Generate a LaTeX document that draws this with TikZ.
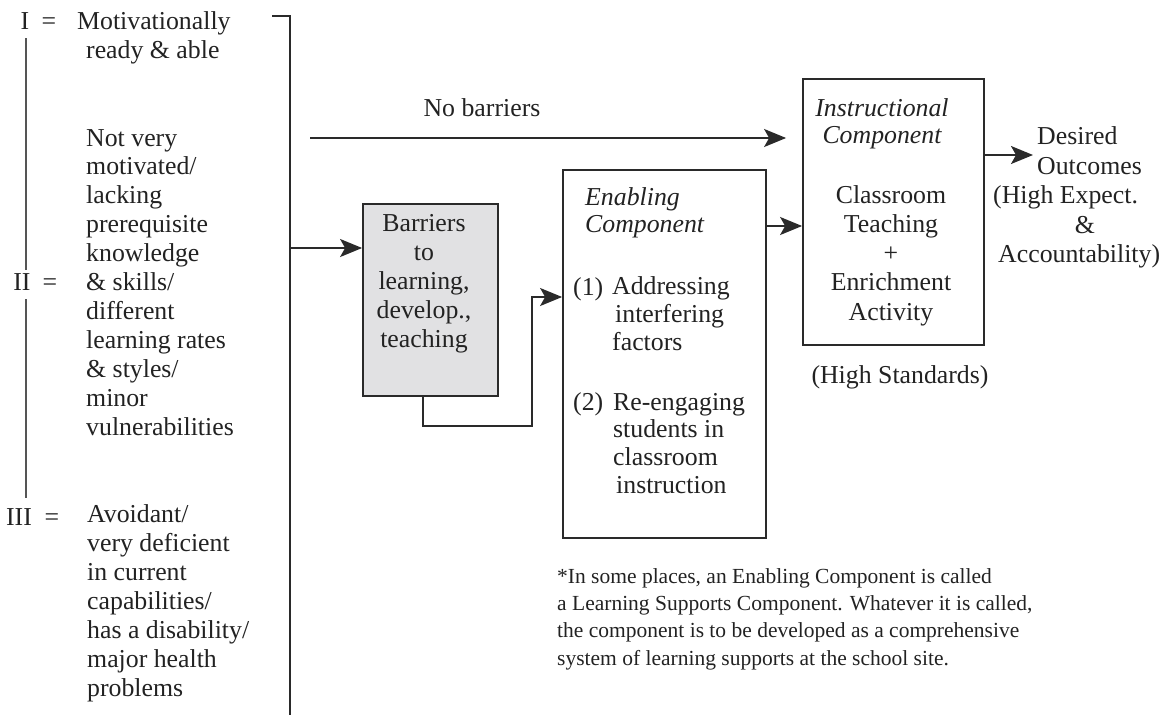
\documentclass[tikz,border=0pt]{standalone}
\usepackage{fontspec}
\setmainfont{Liberation Serif}
\usetikzlibrary{arrows.meta}
\definecolor{ink}{HTML}{222222}
\definecolor{linecol}{HTML}{2A2A2A}
\definecolor{sidecol}{HTML}{555555}
\definecolor{barfill}{HTML}{E1E1E3}
\begin{document}
\begin{tikzpicture}[x=1pt,y=-1pt,
  txt/.style={font=\fontsize{25.8}{28.9}\selectfont, inner sep=0pt, text=ink},
  txtE/.style={font=\fontsize{25.8}{27.6}\selectfont, inner sep=0pt, text=ink},
  txtI/.style={font=\fontsize{25.8}{29.2}\selectfont, inner sep=0pt, text=ink},
  txtF/.style={font=\fontsize{21.5}{27.2}\selectfont, inner sep=0pt, text=ink},
  ital/.style={font=\fontsize{25.8}{27}\selectfont\itshape, inner sep=0pt, text=ink},
  boxx/.style={draw=linecol, line width=1.8pt, inner sep=0pt},
  conn/.style={draw=linecol, line width=1.8pt},
  side/.style={draw=sidecol, line width=1.6pt},
  arr/.style={-{Stealth[length=22pt,width=18pt,inset=5pt]}}
]
\useasboundingbox (0,0) rectangle (1167,715);

% left column (multi-line nodes are anchored at the baseline of their last line)
\node[txt,anchor=base] (lI) at (25,29) {I};
\node[txt,anchor=base] (eqI) at (49,29) {=};
\node[txt,anchor=base west,align=left] (tI) at (77,58) {Motivationally\\\hspace*{9pt}ready \& able};
\node[txt,anchor=base] (lII) at (22,290) {II};
\node[txt,anchor=base] (eqII) at (50,290) {=};
\node[txt,anchor=base west,align=left] (tII) at (86,435) {Not very\\motivated/\\lacking\\prerequisite\\knowledge\\\& skills/\\different\\learning rates\\\& styles/\\minor\\vulnerabilities};
\node[txt,anchor=base] (lIII) at (19,525) {III};
\node[txt,anchor=base] (eqIII) at (52,525) {=};
\node[txt,anchor=base west,align=left] (tIII) at (87,696) {Avoidant/\\very deficient\\in current\\capabilities/\\has a disability/\\major health\\problems};

\coordinate (v1a) at (26,38);
\coordinate (v1b) at (26,270);
\coordinate (v2a) at (26,299);
\coordinate (v2b) at (26,498);
\draw[side] (v1a) -- (v1b);
\draw[side] (v2a) -- (v2b);

% bracket
\coordinate (brT) at (272,16);
\coordinate (brB) at (290,715);
\coordinate (brJ) at (290,248);
\draw[conn] (brT) -- (brB |- brT) -- (brB);

% boxes
\node[boxx, fill=barfill, minimum width=135pt, minimum height=192pt] (bar) at (430.5,300) {};
\node[boxx, minimum width=203pt, minimum height=368pt] (enab) at (664.5,354) {};
\node[boxx, minimum width=181pt, minimum height=266pt] (instr) at (893.5,212) {};

% box texts
\node[txt,anchor=base,align=center] (bartxt) at (424,347) {Barriers\\to\\learning,\\develop.,\\teaching};
\node[ital,anchor=base west,align=left] (enT) at (585,232) {Enabling\\Component};
\node[txtE,anchor=base west] (n1) at (573,295) {(1)};
\node[txtE,anchor=base west,align=left] (n1t) at (612,350) {Addressing\\\hspace*{3pt}interfering\\factors};
\node[txtE,anchor=base west] (n2) at (573,410) {(2)};
\node[txtE,anchor=base west,align=left] (n2t) at (613,493) {Re-engaging\\students in\\classroom\\\hspace*{3pt}instruction};
\node[ital,anchor=base,align=center] (inT) at (882,143) {Instructional\\Component};
\node[txtI,anchor=base,align=center] (inB) at (891,320) {Classroom\\Teaching\\+\\Enrichment\\Activity};
\node[txt,anchor=base] (hs) at (900,383) {(High Standards)};
\node[txt,anchor=base] (nb) at (482,116) {No barriers};
\node[txtI,anchor=base west,align=left] (des) at (1037,174) {Desired\\Outcomes};
\node[txt,anchor=base west] (hexp) at (993,203) {(High Expect.};
\node[txt,anchor=base] (amp) at (1085,233) {\&};
\node[txt,anchor=base west] (acc) at (998,262) {Accountability)};
\node[txtF,anchor=base west,align=left] (fn) at (557,665) {*In some places, an Enabling Component is called\\a Learning Supports Component. Whatever it is called,\\the component is to be developed as a comprehensive\\system of learning supports at the school site.};

% connectors
\coordinate (nbS) at (310,138);
\draw[conn,arr,shorten >=16pt] (nbS) -- (instr.west |- nbS);
\draw[conn,arr] (brJ) -- (bar.west |- brJ);
\coordinate (bk1) at (423,426);
\coordinate (bk2) at (532,297);
\draw[conn,arr] (bar.south -| bk1) -- (bk1) -| (bk2) -- (enab.west |- bk2);
\coordinate (e2i) at (766,226);
\draw[conn,arr] (e2i) -- (instr.west |- e2i);
\coordinate (dtip) at (1033,155);
\draw[conn,arr] (instr.east |- dtip) -- (dtip);
\end{tikzpicture}
\end{document}
